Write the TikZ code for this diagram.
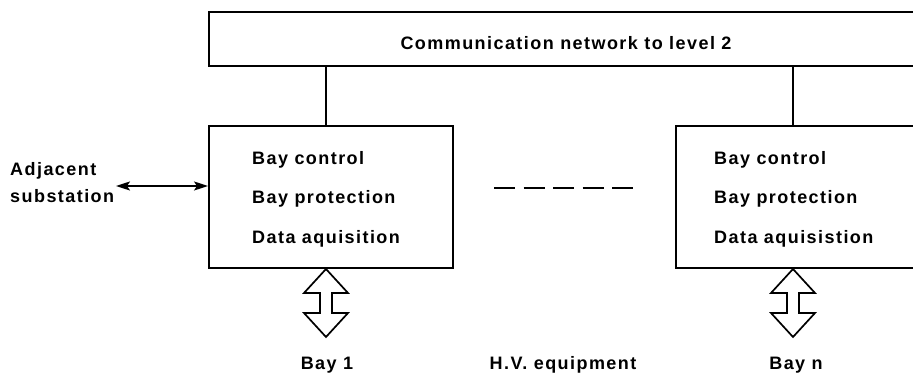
\documentclass[tikz,border=0pt]{standalone}
\usepackage{fontspec}
\setmainfont{Liberation Sans}[LetterSpace=8]
\usetikzlibrary{arrows.meta}

% hollow double-headed arrow, tip at #1, pointing up and down
\newcommand\hvarrow[1]{%
  \draw[hollow] (#1) -- ++(22,24) -- ++(-16,0) -- ++(0,20) -- ++(16,0)
    -- ++(-22,24) -- ++(-22,-24) -- ++(16,0) -- ++(0,-20) -- ++(-16,0) -- cycle;}

\begin{document}
\begin{tikzpicture}[x=1pt,y=-1pt,
  box/.style={draw, rectangle, line width=1.9pt, inner sep=0pt, anchor=north west},
  lbl/.style={font=\bfseries\fontsize{18}{20}\selectfont, inner sep=0pt},
  link/.style={line width=1.7pt},
  hollow/.style={line width=1.7pt, line join=miter},
  >={Stealth[length=14pt,width=9pt,inset=3pt]}]

\path[use as bounding box] (0,0) rectangle (913,379);
\clip (0,0) rectangle (913,379);

% level-2 communication bus
\node[box, minimum width=740pt, minimum height=54pt] (bus) at (208,11) {};
\node[lbl, anchor=base] (bustext) at (566,50) {Communication network to level 2};

% bay units
\node[box, minimum width=244pt, minimum height=142pt] (bay1) at (208,125) {};
\node[box, minimum width=260pt, minimum height=142pt] (bayn) at (675,125) {};

\node[lbl, anchor=base west] (b1a) at (252,165) {Bay control};
\node[lbl, anchor=base west] (b1b) at (252,204) {Bay protection};
\node[lbl, anchor=base west] (b1c) at (252,244) {Data aquisition};

\node[lbl, anchor=base west] (bna) at (714,165) {Bay control};
\node[lbl, anchor=base west] (bnb) at (714,204) {Bay protection};
\node[lbl, anchor=base west] (bnc) at (714,244) {Data aquisistion};

% links from the bus down to the bays
\coordinate (j1) at (326,0);
\coordinate (j2) at (793,0);
\draw[link] (bus.south -| j1) -- (bay1.north -| j1);
\draw[link] (bus.south -| j2) -- (bayn.north -| j2);

% further bays in between
\coordinate (d1) at (494,188);
\coordinate (d2) at (636,188);
\draw[line width=2.4pt, dash pattern=on 21pt off 8.5pt] (d1) -- (d2);

% adjacent substation
\node[lbl, anchor=base west] (adj1) at (10,176) {Adjacent};
\node[lbl, anchor=base west] (adj2) at (10,203) {substation};
\coordinate (a0) at (116,186);
\draw[link, <->] (a0) -- (bay1.west |- a0);

% high-voltage equipment interfaces
\coordinate (h1) at (326,269);
\coordinate (h2) at (793,269);
\hvarrow{h1}
\hvarrow{h2}

\node[lbl, anchor=base] (bay1lbl) at (327,369) {Bay 1};
\node[lbl, anchor=base] (hvlbl) at (563,370) {H.V. equipment};
\node[lbl, anchor=base] (baynlbl) at (796,370) {Bay n};

\end{tikzpicture}
\end{document}
